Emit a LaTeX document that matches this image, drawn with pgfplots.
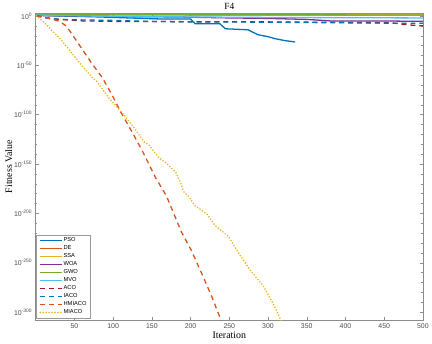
\documentclass[border=0pt]{standalone}
\usepackage{pgfplots}
\pgfplotsset{compat=1.18}
\usepackage{fontspec}
\setmainfont{Liberation Serif}
\setsansfont{Liberation Sans}

\definecolor{mBlue}{HTML}{0072BD}
\definecolor{mOrange}{HTML}{D95319}
\definecolor{mYellow}{HTML}{EDB120}
\definecolor{mPurple}{HTML}{7E2F8E}
\definecolor{mGreen}{HTML}{77AC30}
\definecolor{mCyan}{HTML}{4DBEEE}
\definecolor{mRed}{HTML}{A2142F}

\begin{document}
\begin{tikzpicture}
\begin{axis}[
  scale only axis,
  width=391pt, height=310pt,
  xmin=0, xmax=500,
  ymode=log,
  ymin=1e-308, ymax=1e3,
  xtick={50,100,...,500},
  ytick={1e-300,1e-250,1e-200,1e-150,1e-100,1e-50,1},
  yticklabels={10\textsuperscript{-300},10\textsuperscript{-250},10\textsuperscript{-200},10\textsuperscript{-150},10\textsuperscript{-100},10\textsuperscript{-50},10\textsuperscript{0}},
  minor ytick={1e-290,1e-280,1e-270,1e-260,1e-240,1e-230,1e-220,1e-210,1e-190,1e-180,1e-170,1e-160,1e-140,1e-130,1e-120,1e-110,1e-90,1e-80,1e-70,1e-60,1e-40,1e-30,1e-20,1e-10},
  /pgf/number format/assume math mode=true,
  tick label style={font=\sffamily\fontsize{7}{8}\selectfont, text=black!70},
  tick align=inside,
  major tick length=3pt, minor tick length=1.8pt,
  xtick pos=both, ytick pos=both,
  axis line style={black!45},
  every tick/.style={black!45},
  title={F4},
  title style={font=\fontsize{9.5}{10}\selectfont, yshift=-6pt},
  xlabel={Iteration},
  ylabel={Fitness Value},
  label style={font=\fontsize{10}{11}\selectfont},
  xlabel style={yshift=3pt},
  ylabel style={yshift=-5pt},
  legend style={at={(rel axis cs:0,0)}, anchor=south west, xshift=0.5pt, yshift=2pt,
    font=\sffamily\fontsize{5.8}{6}\selectfont, draw=black!40, fill=white,
    nodes={inner sep=0.7pt}, row sep=1.1pt},
  legend cell align=left,
  legend image code/.code={\draw[#1] (0pt,0pt) -- (22pt,0pt);},
  every axis plot/.append style={line width=1.3pt},
]
% PSO
\addplot[mBlue] coordinates {(1,3.2) (30,1) (82,1e-1) (120,1e-2) (159,1e-3) (200,1e-3) (206,1e-8) (238,1e-8) (245,1e-13) (260,3.2e-14) (274,1e-14) (287,1e-19) (300,1e-21) (309,1e-23) (322,1e-25) (332,1e-26) (335,3.2e-27)};
% DE
\addplot[mOrange] coordinates {(1,16) (100,14) (200,13) (300,12) (400,11) (500,10)};
% SSA
\addplot[mYellow] coordinates {(1,32) (100,30) (200,28) (300,26) (400,24) (500,22)};
% WOA
\addplot[mPurple] coordinates {(1,3.2) (100,3.2e-1) (180,1e-1) (250,1e-2) (300,3.2e-3) (350,3.2e-4) (380,1e-5) (440,1e-5) (500,3.2e-6)};
% GWO
\addplot[mGreen] coordinates {(1,32) (100,25) (200,20) (300,16) (400,12) (500,10)};
% MVO
\addplot[mCyan] coordinates {(1,10) (60,1) (100,3.2e-1) (200,1e-1) (300,3.2e-2) (400,1.6e-2) (500,1e-2)};
% ACO
\addplot[mRed, dash pattern=on 5pt off 4pt] coordinates {(1,1) (18,3.2e-3) (40,1e-4) (60,1e-5) (100,3.2e-6) (200,1.6e-6) (300,1e-6) (400,3.2e-7) (460,1e-7) (480,1e-9) (500,1e-10)};
% IACO
\addplot[mBlue, dash pattern=on 5pt off 4pt] coordinates {(1,1) (15,1e-2) (30,3.2e-4) (60,1e-4) (100,3.2e-5) (150,3.2e-6) (200,1e-6) (300,5e-7) (400,1e-7) (500,3.2e-8)};
% HMIACO
\addplot[mOrange, dash pattern=on 5pt off 4pt] coordinates {(1,1) (10,1e-1) (20,1e-3) (31,3.2e-6) (40,3.2e-11) (53,3.2e-26) (72,3.2e-48) (86,3.2e-63) (99,3.2e-81) (110,3.2e-98) (123,3.2e-116) (137,3.2e-136) (155,1e-164) (169,3.2e-183) (174,1e-192) (188,3.2e-219) (201,3.2e-238) (217,3.2e-266) (227,3.2e-284) (237,3.2e-304) (239,1e-309)};
% MIACO
\addplot[mYellow, line width=1.8pt, line cap=round, dash pattern=on 0pt off 3pt] coordinates {(1,1) (10,1e-6) (20,1e-14) (31,3.2e-23) (45,1e-36) (60,3.2e-51) (73,3.2e-63) (78,3.2e-66) (95,3.2e-84) (112,3.2e-99) (125,1e-111) (140,3.2e-128) (146,3.2e-131) (159,3.2e-144) (170,1e-150) (181,3.2e-159) (187,3.2e-169) (191,1e-178) (197,3.2e-183) (206,3.2e-193) (221,3.2e-201) (232,3.2e-213) (249,3.2e-224) (264,3.2e-243) (278,3.2e-259) (294,3.2e-274) (306,3.2e-291) (312,1e-300) (315,3.2e-306) (317,1e-309)};
\legend{PSO,DE,SSA,WOA,GWO,MVO,ACO,IACO,HMIACO,MIACO}
\end{axis}
\path[use as bounding box] ([xshift=-36pt,yshift=-24pt]current axis.south west) rectangle ([xshift=5pt,yshift=12pt]current axis.north east);
\end{tikzpicture}
\end{document}
